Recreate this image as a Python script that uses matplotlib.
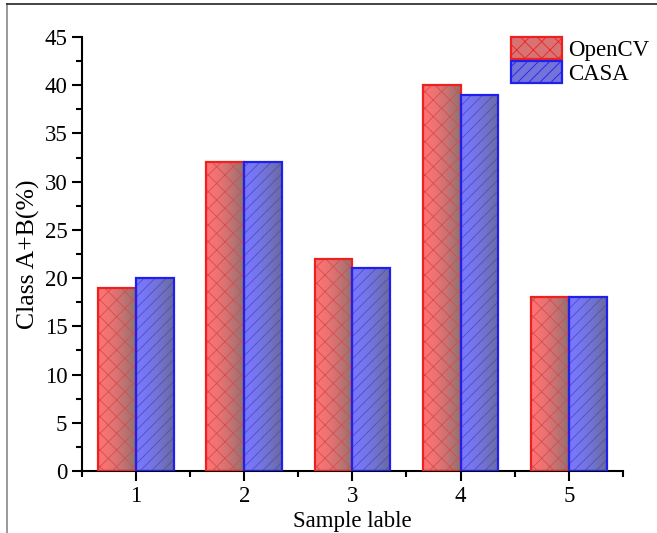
import numpy as np
import matplotlib
matplotlib.use('Agg')
import matplotlib.pyplot as plt
from matplotlib.ticker import MultipleLocator, FixedLocator
from matplotlib.patches import Patch
from matplotlib.lines import Line2D

samples = [1, 2, 3, 4, 5]
opencv = [19, 32, 22, 40, 18]
casa = [20, 32, 21, 39, 18]

plt.rcParams['font.family'] = ['Liberation Serif', 'DejaVu Serif']
plt.rcParams['hatch.linewidth'] = 0.6

fig = plt.figure(figsize=(6.57, 5.33), dpi=100)
ax = fig.add_axes([0.1248, 0.1163, 0.8232, 0.8143])

w = 0.35
red_l, red_r = (1.0, 0.45, 0.45), (0.55, 0.45, 0.45)
blue_l, blue_r = (0.47, 0.47, 1.0), (0.42, 0.42, 0.6)


def gradient_bars(xs, hs, cl, cr, edge, hatch, hatch_col):
    t = np.linspace(0, 1, 64) ** 1.6
    img = np.zeros((1, 64, 3))
    for k in range(3):
        img[0, :, k] = cl[k] + (cr[k] - cl[k]) * t
    bars = ax.bar(xs, hs, width=w, facecolor='none', edgecolor=hatch_col,
                  linewidth=0, hatch=hatch, zorder=3)
    for b in bars:
        x0, y0 = b.get_x(), b.get_y()
        im = ax.imshow(img, extent=(x0, x0 + b.get_width(), y0, y0 + b.get_height()),
                       aspect='auto', zorder=2, interpolation='bilinear')
        im.set_clip_path(b)
    ax.bar(xs, hs, width=w, facecolor='none', edgecolor=edge, linewidth=1.6, zorder=4)


x = np.array(samples, dtype=float)
gradient_bars(x - w / 2, opencv, red_l, red_r, '#ee2020', 'xx', '#d05050')
gradient_bars(x + w / 2, casa, blue_l, blue_r, '#2020ee', '///', '#5050b8')

ax.set_xlim(0.5, 5.5)
ax.set_ylim(0, 45)
ax.set_xticks(samples)
ax.xaxis.set_minor_locator(FixedLocator([0.5, 1.5, 2.5, 3.5, 4.5, 5.5]))
ax.yaxis.set_major_locator(MultipleLocator(5))
ax.yaxis.set_minor_locator(MultipleLocator(2.5))
ax.tick_params(which='major', direction='out', length=7, width=1.5, labelsize=16.5)
ax.tick_params(which='minor', direction='out', length=4, width=1.5)
for s in ['top', 'right']:
    ax.spines[s].set_visible(False)
for s in ['left', 'bottom']:
    ax.spines[s].set_linewidth(1.5)

ax.set_xlabel('Sample lable', fontsize=16.5, labelpad=3)
ax.set_ylabel('Class A+B(%)', fontsize=18.5, labelpad=3)

h1 = Patch(facecolor=(0.85, 0.45, 0.45), edgecolor='#ee2020', hatch='xx', linewidth=1.6)
h2 = Patch(facecolor=(0.45, 0.45, 0.85), edgecolor='#2020ee', hatch='///', linewidth=1.6)
ax.legend([h1, h2], ['OpenCV', 'CASA'], loc='upper left', bbox_to_anchor=(0.793, 1.0),
          frameon=False, fontsize=16.5, handlelength=2.23, handleheight=1.13,
          handletextpad=0.25, labelspacing=0.0, borderaxespad=0, borderpad=0)

# image frame lines
fig.add_artist(Line2D([7 / 657, 7 / 657], [0, 1 - 4 / 533], transform=fig.transFigure,
                      color='#888888', linewidth=1.2))
fig.add_artist(Line2D([7 / 657, 1], [1 - 4 / 533, 1 - 4 / 533], transform=fig.transFigure,
                      color='#222222', linewidth=1.2))

fig.savefig('out.png', dpi=100)
